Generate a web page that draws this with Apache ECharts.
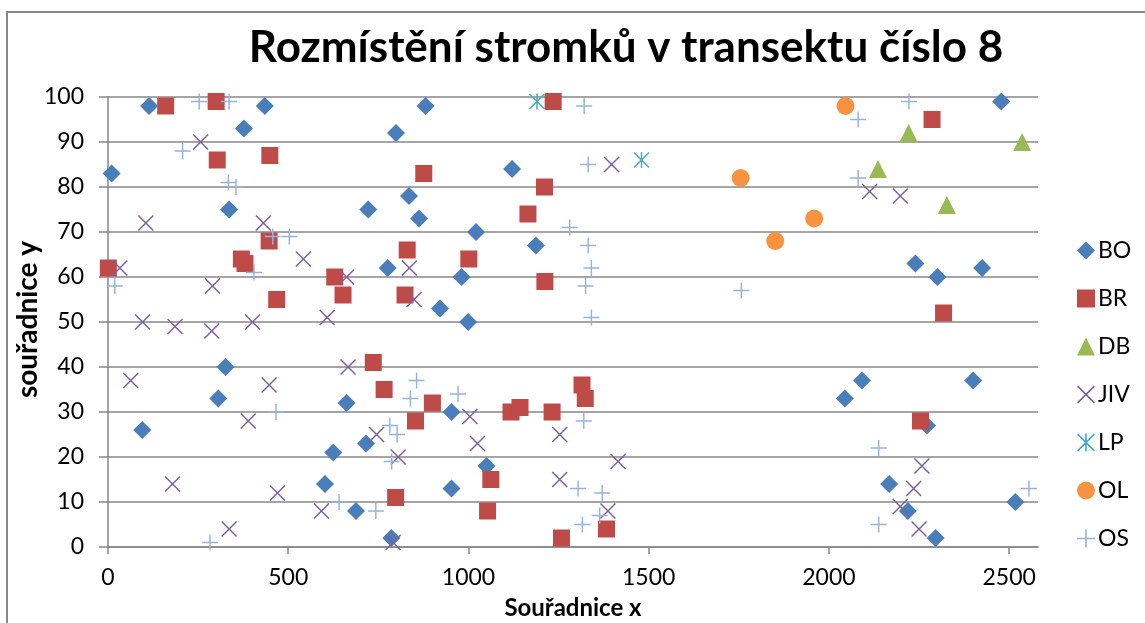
<!DOCTYPE html>
<html>
<head>
<meta charset="utf-8">
<script src="https://cdn.jsdelivr.net/npm/echarts@6/dist/echarts.min.js"></script>
<style>
html, body { margin: 0; padding: 0; background: #fff; }
#chart { width: 1145px; height: 623px; }
</style>
</head>
<body>
<div id="chart"></div>
<script>
// souřadnice stromků [x, y] po druzích
const BO = [[10,83],[114,98],[377,93],[435,98],[336,75],[326,40],[306,33],[95,26],[625,21],[602,14],[662,32],[688,8],
  [881,98],[799,92],[1121,84],[835,78],[722,75],[863,73],[1021,70],[1187,67],[776,62],[981,60],[921,53],[999,50],
  [953,30],[716,23],[1050,18],[953,13],[786,2],[2478,99],[2240,63],[2301,60],[2425,62],[2044,33],[2092,37],[2400,37],
  [2272,27],[2167,14],[2219,8],[2296,2],[2517,10]];
const BR = [[160,98],[300,99],[303,86],[449,87],[1,62],[370,64],[380,63],[447,68],[468,55],[629,60],[652,56],[1235,99],
  [876,83],[1211,80],[1165,74],[830,66],[1001,64],[1212,59],[824,56],[736,41],[766,35],[900,32],[853,28],[1118,30],
  [1143,31],[1232,30],[1315,36],[1324,33],[1062,15],[798,11],[1053,8],[1258,2],[1383,4],[2286,95],[2318,52],[2254,28]];
const DB = [[2221,92],[2536,90],[2136,84],[2327,76]];
const JIV = [[257,90],[105,72],[431,72],[33,62],[290,58],[542,64],[662,60],[96,50],[186,49],[288,48],[401,50],[608,51],
  [63,37],[447,36],[389,28],[179,14],[470,12],[592,8],[336,4],[666,40],[1397,85],[836,62],[849,55],[1004,29],[745,25],
  [1025,23],[1253,25],[805,20],[1415,19],[1253,15],[1387,8],[791,1],[2113,79],[2198,78],[2258,18],[2235,13],[2198,9],[2250,4]];
const LP = [[1190,99],[1480,86]];
const OL = [[2046,98],[1755,82],[1959,73],[1851,68]];
const OS = [[253,99],[336,99],[207,88],[334,81],[355,80],[457,69],[503,69],[19,58],[405,61],[466,30],[283,1],[641,10],
  [1321,98],[1332,85],[1281,71],[1332,67],[1341,62],[1325,58],[1341,51],[856,37],[839,33],[971,34],[782,27],[802,25],
  [787,19],[1320,28],[743,8],[1304,13],[1371,12],[1316,5],[1364,7],[2222,99],[2081,95],[2081,82],[1757,57],[2138,22],
  [2138,5],[2555,13]];

const xTicks = [0, 500, 1000, 1500, 2000, 2500];

// značky jako vyplněné cesty (x, hvězdička, plus)
const crossPath = 'path://M0,1.3 L1.3,0 L20,18.7 L18.7,20 Z M18.7,0 L20,1.3 L1.3,20 L0,18.7 Z';
const plusPath = 'path://M9.1,0 L10.9,0 L10.9,20 L9.1,20 Z M0,9.1 L20,9.1 L20,10.9 L0,10.9 Z';
const starPath = 'path://M0,1.3 L1.3,0 L20,18.7 L18.7,20 Z M18.7,0 L20,1.3 L1.3,20 L0,18.7 Z M9.1,0 L10.9,0 L10.9,20 L9.1,20 Z';

const font = 'Lato, "Open Sans", sans-serif';

function ser(name, data, symbol, size, color) {
  return { name, type: 'scatter', data, symbol, symbolSize: size, itemStyle: { color, opacity: 1 } };
}

const chart = echarts.init(document.getElementById('chart'));
chart.setOption({
  animation: false,
  backgroundColor: '#fff',
  textStyle: { fontFamily: font },
  title: {
    text: 'Rozmístění stromků v transektu číslo 8',
    left: 621, top: 21, textAlign: 'center',
    textStyle: { fontFamily: font, fontWeight: 'bold', fontSize: 44, color: '#000' }
  },
  graphic: [{
    type: 'rect', shape: { x: 7, y: 12, width: 1300, height: 800 },
    style: { fill: 'none', stroke: '#878787', lineWidth: 2 }, silent: true
  }],
  legend: {
    orient: 'vertical', left: 1072, top: 234,
    itemWidth: 18, itemHeight: 18, itemGap: 25,
    textStyle: { fontFamily: font, fontSize: 23, color: '#000', padding: [0, 0, 0, -2] },
    data: ['BO', 'BR', 'DB', 'JIV', 'LP', 'OL', 'OS']
  },
  grid: { left: 108, right: 107, top: 97, bottom: 76, outerBoundsMode: 'none', containLabel: false },
  xAxis: {
    type: 'value', min: 0, max: 2580, interval: 500,
    name: 'Souřadnice x', nameLocation: 'middle', nameGap: 49, nameMoveOverlap: false,
    nameTextStyle: { fontFamily: font, fontWeight: 'bold', fontSize: 24, color: '#000' },
    splitLine: { show: false },
    axisLine: { onZero: false, lineStyle: { color: '#878787', width: 1.5 } },
    axisTick: { show: true, length: 7, customValues: xTicks, lineStyle: { color: '#878787', width: 1.5 } },
    axisLabel: { customValues: xTicks, margin: 19, fontFamily: font, fontSize: 23, color: '#000',
      formatter: v => String(v) }
  },
  yAxis: {
    type: 'value', min: 0, max: 100, interval: 10,
    name: 'souřadnice y', nameLocation: 'middle', nameGap: 66, nameRotate: 90, nameMoveOverlap: false,
    nameTextStyle: { fontFamily: font, fontWeight: 'bold', fontSize: 28, color: '#000', padding: [0, 0, 0, 5] },
    axisLine: { show: true, lineStyle: { color: '#878787', width: 1.5 } },
    axisTick: { show: true, length: 9, lineStyle: { color: '#878787', width: 1.5 } },
    splitLine: { show: true, lineStyle: { color: '#878787', width: 1.5 } },
    axisLabel: { margin: 24, fontFamily: font, fontSize: 23, color: '#000' }
  },
  series: [
    ser('BO', BO, 'diamond', 18, '#4A7EBB'),
    ser('BR', BR, 'rect', 17, '#BE4B48'),
    ser('DB', DB, 'triangle', 18, '#98B954'),
    ser('JIV', JIV, crossPath, 16, '#7D5FA0'),
    ser('LP', LP, starPath, 16, '#46AAC5'),
    ser('OL', OL, 'circle', 18, '#F69240'),
    ser('OS', OS, plusPath, 16, '#95B3DE')
  ]
});
</script>
</body>
</html>
